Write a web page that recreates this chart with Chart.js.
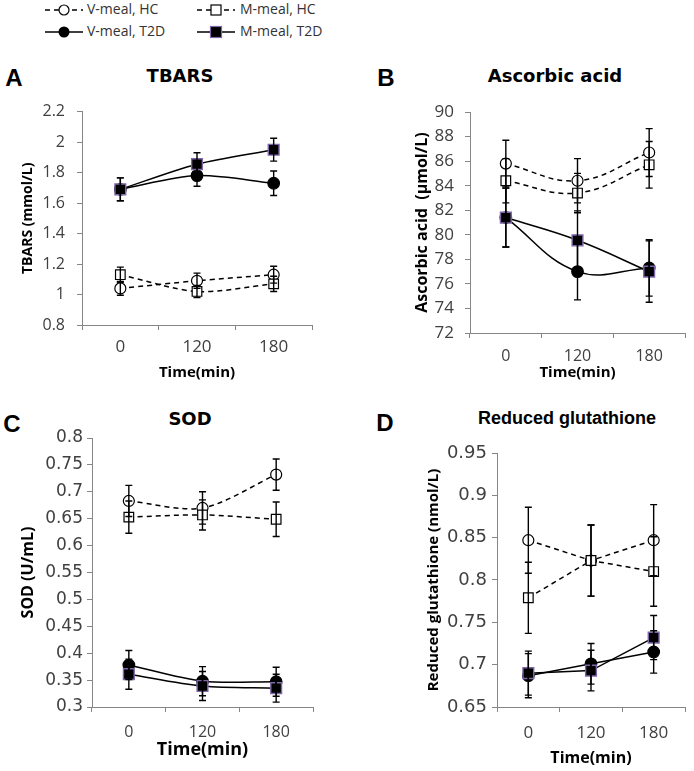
<!DOCTYPE html>
<html>
<head>
<meta charset="utf-8">
<script src="https://cdn.jsdelivr.net/npm/chart.js@4.4.0/dist/chart.umd.min.js"></script>
<style>
  body { margin: 0; background: #fff; width: 694px; height: 771px; position: relative; overflow: hidden; font-family: "Open Sans", sans-serif; }
  canvas { position: absolute; }
  .lbl { position: absolute; transform: translate(-50%, -50%); line-height: 1; white-space: nowrap; color: #000; }
  .letter { font: bold 24px "Liberation Sans", Arial, sans-serif; }
  .title { font: bold 18px "DejaVu Sans", sans-serif; }
  .leg { position: absolute; font-size: 14px; color: #333; line-height: 14px; }
  .leg svg { position: absolute; }
</style>
</head>
<body>

<div class="leg" style="left:45px;top:3px"><svg width="38" height="14" style="left:0;top:0"><line x1="0" y1="7" x2="38" y2="7" stroke="#000" stroke-width="1.5" stroke-dasharray="5,4"/><circle cx="19" cy="7" r="5" fill="#fff" stroke="#000" stroke-width="1.2"/></svg><span style="position:absolute;left:42px;top:-1px;white-space:nowrap">V-meal, HC</span></div>
<div class="leg" style="left:197px;top:3px"><svg width="38" height="14" style="left:0;top:0"><line x1="0" y1="7" x2="38" y2="7" stroke="#000" stroke-width="1.5" stroke-dasharray="5,4"/><rect x="14" y="2" width="10" height="10" fill="#fff" stroke="#000" stroke-width="1.2"/></svg><span style="position:absolute;left:43px;top:-1px;white-space:nowrap">M-meal, HC</span></div>
<div class="leg" style="left:45px;top:25px"><svg width="38" height="14" style="left:0;top:0"><line x1="0" y1="7" x2="38" y2="7" stroke="#000" stroke-width="1.5"/><circle cx="19" cy="7" r="5.5" fill="#000"/></svg><span style="position:absolute;left:42px;top:-1px;white-space:nowrap">V-meal, T2D</span></div>
<div class="leg" style="left:197px;top:25px"><svg width="38" height="14" style="left:0;top:0"><line x1="0" y1="7" x2="38" y2="7" stroke="#000" stroke-width="1.5"/><rect x="13.5" y="1.5" width="11" height="11" fill="#000" stroke="#7e66a8" stroke-width="1.2"/></svg><span style="position:absolute;left:43px;top:-1px;white-space:nowrap">M-meal, T2D</span></div>

<div class="lbl letter" style="left:14px;top:78px">A</div>
<div class="lbl letter" style="left:386px;top:78px">B</div>
<div class="lbl letter" style="left:12px;top:424px">C</div>
<div class="lbl letter" style="left:385px;top:423px">D</div>

<div class="lbl title" style="left:180px;top:75px">TBARS</div>
<div class="lbl title" style="left:555px;top:75px">Ascorbic acid</div>
<div class="lbl title" style="left:190px;top:418px">SOD</div>
<div class="lbl title" style="left:567px;top:418px;font-family:'Liberation Sans',Arial,sans-serif">Reduced glutathione</div>

<canvas id="chartA"></canvas>
<canvas id="chartB"></canvas>
<canvas id="chartC"></canvas>
<canvas id="chartD"></canvas>

<script>
// time points
const timeLabels = ['0', '120', '180'];

// A: TBARS (mmol/L)
const tbarsVmealHC = [1.04, 1.09, 1.13];
const tbarsMmealHC = [1.13, 1.02, 1.07];
const tbarsVmealT2D = [1.69, 1.78, 1.73];
const tbarsMmealT2D = [1.69, 1.855, 1.95];
const tbarsErrVmealHC = [0.045, 0.05, 0.055];
const tbarsErrMmealHC = [0.05, 0.04, 0.05];
const tbarsErrVmealT2D = [0.075, 0.07, 0.08];
const tbarsErrMmealT2D = [0.075, 0.075, 0.075];

// B: Ascorbic acid (umol/L)
const ascVmealHC = [85.8, 84.4, 86.7];
const ascMmealHC = [84.4, 83.4, 85.7];
const ascVmealT2D = [81.4, 77.0, 77.3];
const ascMmealT2D = [81.4, 79.55, 77.0];
const ascErrVmealHC = [1.9, 1.8, 1.95];
const ascErrMmealHC = [1.8, 1.6, 1.9];
const ascErrVmealT2D = [2.4, 2.3, 2.3];
const ascErrMmealT2D = [2.4, 2.4, 2.5];

// C: SOD (U/mL)
const sodVmealHC = [0.683, 0.67, 0.732];
const sodMmealHC = [0.653, 0.657, 0.649];
const sodVmealT2D = [0.378, 0.348, 0.347];
const sodMmealT2D = [0.361, 0.339, 0.335];
const sodErrVmealHC = [0.029, 0.03, 0.029];
const sodErrMmealHC = [0.03, 0.028, 0.032];
const sodErrVmealT2D = [0.027, 0.027, 0.027];
const sodErrMmealT2D = [0.028, 0.027, 0.026];

// D: Reduced glutathione (nmol/L)
const gshVmealHC = [0.847, 0.823, 0.847];
const gshMmealHC = [0.779, 0.823, 0.81];
const gshVmealT2D = [0.687, 0.701, 0.715];
const gshMmealT2D = [0.69, 0.693, 0.732];
const gshErrVmealHC = [0.039, 0.042, 0.042];
const gshErrMmealHC = [0.042, 0.042, 0.041];
const gshErrVmealT2D = [0.026, 0.024, 0.025];
const gshErrMmealT2D = [0.026, 0.024, 0.026];

const AXIS_GREY = '#868686';
const TICK_GREY = '#404040';
const TICK_LEN = 5;

// vertical error bars with caps, drawn over the markers like Excel does
const errorBars = {
  id: 'errorBars',
  afterDatasetsDraw(chart) {
    const ctx = chart.ctx;
    const y = chart.scales.y;
    ctx.save();
    ctx.strokeStyle = '#000';
    ctx.lineWidth = 1.4;
    chart.data.datasets.forEach((ds, i) => {
      chart.getDatasetMeta(i).data.forEach((pt, j) => {
        const top = y.getPixelForValue(ds.data[j] + ds.errors[j]);
        const bot = y.getPixelForValue(ds.data[j] - ds.errors[j]);
        ctx.beginPath();
        ctx.moveTo(pt.x, top); ctx.lineTo(pt.x, bot);
        ctx.moveTo(pt.x - 3.5, top); ctx.lineTo(pt.x + 3.5, top);
        ctx.moveTo(pt.x - 3.5, bot); ctx.lineTo(pt.x + 3.5, bot);
        ctx.stroke();
      });
    });
    ctx.restore();
  }
};

const series = (data, errors, kind, tension) => {
  const base = { data: data, errors: errors, borderColor: '#000', borderWidth: 1.5, tension: tension, pointBorderColor: '#000', pointBorderWidth: 1.2 };
  if (kind === 'vhc') return { ...base, borderDash: [5, 4], pointStyle: 'circle', pointRadius: 5.5, pointBackgroundColor: '#fff' };
  if (kind === 'mhc') return { ...base, borderDash: [5, 4], pointStyle: 'rect', pointRadius: 6.8, pointBackgroundColor: '#fff' };
  if (kind === 'vt2d') return { ...base, pointStyle: 'circle', pointRadius: 5.8, pointBackgroundColor: '#000' };
  return { ...base, pointStyle: 'rect', pointRadius: 7.6, pointBackgroundColor: '#000', pointBorderColor: '#7e66a8', pointBorderWidth: 1.4 };
};

const renderPanel = (elementId, p, datasets) => {
  const [cl, ct, cw, ch] = p.canvas;
  const [x0, y0, x1, y1] = p.area;
  const el = document.getElementById(elementId);
  el.width = cw; el.height = ch;
  el.style.left = cl + 'px'; el.style.top = ct + 'px';
  const lh = s => s * 1.2;
  new Chart(el.getContext('2d'), {
    type: 'line',
    data: { labels: timeLabels, datasets: datasets },
    options: {
      responsive: false,
      animation: false,
      devicePixelRatio: 1,
      layout: { padding: { left: 0, top: y0 - ct, right: cl + cw - x1, bottom: 0 } },
      plugins: { legend: { display: false }, tooltip: { enabled: false } },
      scales: {
        x: {
          type: 'category',
          offset: true,
          grid: { offset: true, drawOnChartArea: false, drawTicks: true, tickLength: TICK_LEN, color: AXIS_GREY },
          border: { color: AXIS_GREY, width: 1 },
          ticks: {
            color: TICK_GREY,
            font: { family: 'Open Sans', size: p.xTickSize },
            padding: p.xTickY - y1 - TICK_LEN - lh(p.xTickSize) / 2,
            maxRotation: 0
          },
          title: {
            display: true, text: 'Time(min)', color: '#000',
            font: { family: 'Open Sans', size: p.xTitleSize, weight: 'bold' },
            padding: { top: 0, bottom: ct + ch - p.xTitleY - lh(p.xTitleSize) / 2 }
          },
          afterFit: s => { s.height = ct + ch - y1; }
        },
        y: {
          min: p.min, max: p.max,
          grid: { drawOnChartArea: false, drawTicks: true, tickLength: TICK_LEN, color: AXIS_GREY },
          border: { color: AXIS_GREY, width: 1 },
          ticks: {
            stepSize: p.step,
            color: TICK_GREY,
            font: { family: p.yTickFamily, size: p.yTickSize },
            padding: x0 - TICK_LEN - p.yLabelRight,
            callback: v => String(+v.toFixed(3))
          },
          title: {
            display: true, text: p.yTitle, color: '#000',
            font: { family: 'Open Sans', size: p.yTitleSize, weight: 'bold' },
            padding: { top: p.yTitleX - cl - lh(p.yTitleSize) / 2, bottom: 0 }
          },
          afterFit: s => { s.width = x0 - cl; }
        }
      }
    },
    plugins: [errorBars]
  });
};

renderPanel('chartA', {
  canvas: [0, 90, 322, 300], area: [82, 101, 312, 325],
  min: 0.8, max: 2.2, step: 0.2, yTitle: 'TBARS (mmol/L)',
  yTitleX: 28, yTitleSize: 14, yLabelRight: 65, yTickSize: 16, yTickFamily: 'Open Sans',
  xTickY: 347, xTickSize: 17, xTitleY: 373, xTitleSize: 15
}, [
  series(tbarsMmealT2D, tbarsErrMmealT2D, 'mt2d', 0.3),
  series(tbarsVmealT2D, tbarsErrVmealT2D, 'vt2d', 0.3),
  series(tbarsMmealHC, tbarsErrMmealHC, 'mhc', 0.3),
  series(tbarsVmealHC, tbarsErrVmealHC, 'vhc', 0.3)
]);

renderPanel('chartB', {
  canvas: [347, 90, 347, 300], area: [470, 112, 689, 333],
  min: 72, max: 90, step: 2, yTitle: 'Ascorbic acid  (\u00b5mol/L)',
  yTitleX: 422, yTitleSize: 16, yLabelRight: 454, yTickSize: 17, yTickFamily: 'Open Sans',
  xTickY: 356, xTickSize: 16, xTitleY: 373, xTitleSize: 15
}, [
  series(ascMmealT2D, ascErrMmealT2D, 'mt2d', 0.4),
  series(ascVmealT2D, ascErrVmealT2D, 'vt2d', 0.4),
  series(ascMmealHC, ascErrMmealHC, 'mhc', 0.4),
  series(ascVmealHC, ascErrVmealHC, 'vhc', 0.4)
]);

renderPanel('chartC', {
  canvas: [0, 400, 322, 371], area: [92, 438, 315, 707],
  min: 0.3, max: 0.8, step: 0.05, yTitle: 'SOD (U/mL)',
  yTitleX: 28, yTitleSize: 16, yLabelRight: 83, yTickSize: 17, yTickFamily: 'DejaVu Sans',
  xTickY: 732, xTickSize: 16, xTitleY: 750, xTitleSize: 18
}, [
  series(sodMmealT2D, sodErrMmealT2D, 'mt2d', 0.3),
  series(sodVmealT2D, sodErrVmealT2D, 'vt2d', 0.3),
  series(sodMmealHC, sodErrMmealHC, 'mhc', 0.3),
  series(sodVmealHC, sodErrVmealHC, 'vhc', 0.3)
]);

renderPanel('chartD', {
  canvas: [347, 400, 347, 371], area: [497, 453, 690, 707],
  min: 0.65, max: 0.95, step: 0.05, yTitle: 'Reduced glutathione (nmol/L)',
  yTitleX: 434, yTitleSize: 15, yLabelRight: 487, yTickSize: 18, yTickFamily: 'DejaVu Sans',
  xTickY: 733, xTickSize: 17, xTitleY: 758, xTitleSize: 16
}, [
  series(gshMmealT2D, gshErrMmealT2D, 'mt2d', 0),
  series(gshVmealT2D, gshErrVmealT2D, 'vt2d', 0),
  series(gshMmealHC, gshErrMmealHC, 'mhc', 0),
  series(gshVmealHC, gshErrVmealHC, 'vhc', 0)
]);
</script>
</body>
</html>
